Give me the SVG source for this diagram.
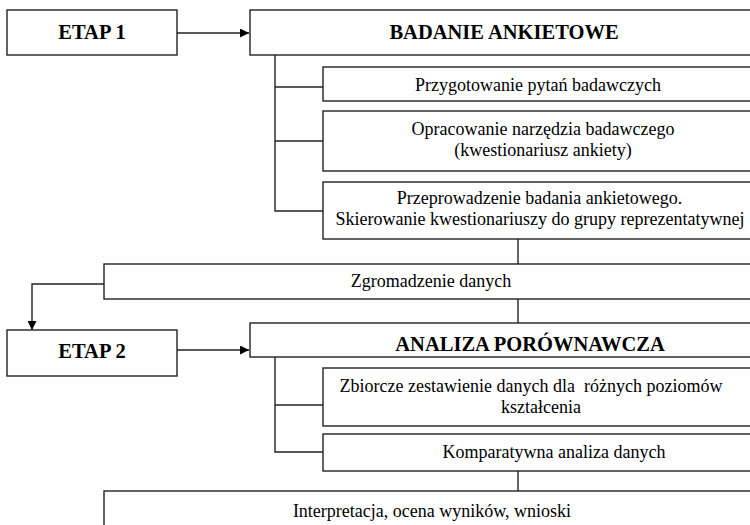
<svg xmlns="http://www.w3.org/2000/svg" width="750" height="525" viewBox="0 0 750 525">
<style>
.box{fill:#fff;stroke:#222;stroke-width:1.4}
.ln{fill:none;stroke:#222;stroke-width:1.4}
text{font-family:'Times New Roman',Tinos,'Noto Serif','Liberation Serif','DejaVu Serif',FreeSerif,Times,serif;fill:#000;text-anchor:middle}
.t{font-size:18px}
.b{font-size:20.5px;font-weight:bold}
</style>
<defs>
<marker id="ah" viewBox="0 0 10 10" refX="10" refY="5" markerWidth="10" markerHeight="9" markerUnits="userSpaceOnUse" orient="auto">
<path d="M0,0 L10,5 L0,10 Z" fill="#000"/>
</marker>
</defs>
<rect width="750" height="525" fill="#fff"/>
<g id="connectors">
<line class="ln" x1="177" y1="33" x2="249" y2="33" marker-end="url(#ah)"/>
<polyline class="ln" points="275,55 275,211 323,211"/>
<line class="ln" x1="275" y1="87" x2="323" y2="87"/>
<line class="ln" x1="275" y1="141" x2="323" y2="141"/>
<line class="ln" x1="518" y1="239" x2="518" y2="264"/>
<polyline class="ln" points="104,284 32,284 32,330" marker-end="url(#ah)"/>
<line class="ln" x1="518" y1="299" x2="518" y2="323"/>
<line class="ln" x1="177" y1="350" x2="249" y2="350" marker-end="url(#ah)"/>
<polyline class="ln" points="275,357 275,452 323,452"/>
<line class="ln" x1="275" y1="405" x2="323" y2="405"/>
<line class="ln" x1="518" y1="471" x2="518" y2="491"/>
</g>
<g id="etap1"><rect class="box" x="7" y="10" width="170" height="45"/><text class="b" x="92" y="39">ETAP 1</text></g>
<g id="badanie"><rect class="box" x="250" y="10" width="510" height="45"/><text class="b" x="504" y="38.5">BADANIE ANKIETOWE</text></g>
<g id="przygotowanie"><rect class="box" x="323" y="67" width="437" height="34"/><text class="t" x="538" y="90.5">Przygotowanie pytań badawczych</text></g>
<g id="opracowanie"><rect class="box" x="323" y="111" width="437" height="60"/><text class="t" x="543" y="135">Opracowanie narzędzia badawczego</text><text class="t" x="543" y="155.5">(kwestionariusz ankiety)</text></g>
<g id="przeprowadzenie"><rect class="box" x="323" y="182" width="437" height="57"/><text class="t" x="539.5" y="204">Przeprowadzenie badania ankietowego.</text><text class="t" x="540" y="225">Skierowanie kwestionariuszy do grupy reprezentatywnej</text></g>
<g id="zgromadzenie"><rect class="box" x="104" y="264" width="656" height="35"/><text class="t" x="431" y="287">Zgromadzenie danych</text></g>
<g id="etap2"><rect class="box" x="7" y="330" width="170" height="46"/><text class="b" x="92" y="358">ETAP 2</text></g>
<g id="analiza"><rect class="box" x="250" y="323" width="510" height="34"/><text class="b" x="530" y="351">ANALIZA PORÓWNAWCZA</text></g>
<g id="zbiorcze"><rect class="box" x="323" y="368" width="437" height="58"/><text class="t" x="531" y="392" xml:space="preserve">Zbiorcze zestawienie danych dla  różnych poziomów</text><text class="t" x="541" y="413">kształcenia</text></g>
<g id="komparatywna"><rect class="box" x="323" y="434" width="437" height="37"/><text class="t" x="554" y="458">Komparatywna analiza danych</text></g>
<g id="interpretacja"><rect class="box" x="104" y="491" width="656" height="50"/><text class="t" x="432" y="517">Interpretacja, ocena wyników, wnioski</text></g>
</svg>
